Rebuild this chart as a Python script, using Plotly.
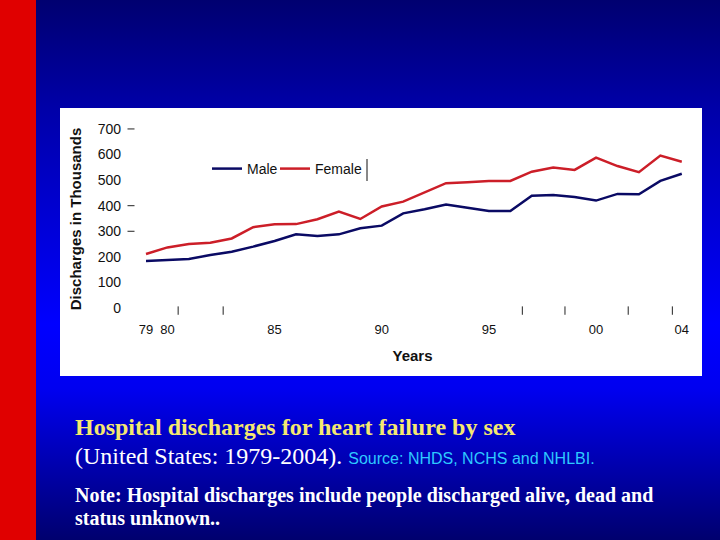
import base64
import plotly.graph_objects as go

# hospital discharges for heart failure (thousands)
years = list(range(1979, 2005))
male = [184, 188, 192, 207, 220, 240, 262, 288, 282, 288, 312, 322, 370,
        386, 405, 392, 379, 379, 439, 442, 434, 420, 446, 445, 497, 525]
female = [211, 237, 250, 255, 272, 316, 327, 328, 347, 377, 348, 397, 416,
          452, 488, 492, 497, 497, 533, 549, 540, 588, 555, 531, 596, 572]

x_tickvals = [1979, 1980, 1985, 1990, 1995, 2000, 2004]
x_ticktext = ['79', '80', '85', '90', '95', '00', '04']
y_tickvals = [0, 100, 200, 300, 400, 500, 600, 700]

# stray little tick marks left over on the original slide
stray_x = [1980.5, 1982.6, 1996.56, 1998.55, 2001.5, 2003.56]
stray_y_dash = [700, 400, 300]

# blue slide background as an svg gradient
svg = '''<svg xmlns="http://www.w3.org/2000/svg" width="720" height="540" preserveAspectRatio="none">
<defs><linearGradient id="g" x1="0" y1="0" x2="0" y2="1">
<stop offset="0" stop-color="#000070"/>
<stop offset="0.2" stop-color="#0000a8"/>
<stop offset="0.6" stop-color="#0000ff"/>
<stop offset="0.72" stop-color="#0000f0"/>
<stop offset="1" stop-color="#00006e"/>
</linearGradient></defs>
<rect width="720" height="540" fill="url(#g)"/></svg>'''
bg_src = 'data:image/svg+xml;base64,' + base64.b64encode(svg.encode()).decode()

W, H = 720, 540
L, R, T, B = 125, 20, 120, 222
PW, PH = W - L - R, H - T - B

# 'paper' in plotly means the plot area, so convert page pixels to it
def px(x): return (x - L) / PW
def py(y): return (H - B - y) / PH

serif = 'Liberation Serif, Times New Roman'

fig = go.Figure()
fig.add_trace(go.Scatter(x=years, y=male, mode='lines', name='Male', legend='legend',
                         line=dict(color='#0a0a64', width=2.5)))
fig.add_trace(go.Scatter(x=years, y=female, mode='lines', name='Female', legend='legend2',
                         line=dict(color='#cc1e28', width=2.5)))
fig.add_trace(go.Scatter(x=stray_x, y=[-10] * len(stray_x), mode='markers', showlegend=False,
                         cliponaxis=False, hoverinfo='skip',
                         marker=dict(symbol='line-ns', size=6, line=dict(color='#222', width=1))))
fig.add_trace(go.Scatter(x=[1978.3] * len(stray_y_dash), y=stray_y_dash, mode='markers',
                         showlegend=False, cliponaxis=False, hoverinfo='skip',
                         marker=dict(symbol='line-ew', size=5, line=dict(color='#222', width=1))))

leg = dict(orientation='h', y=py(169), xanchor='left', yanchor='middle',
           bgcolor='rgba(0,0,0,0)', font=dict(size=14), itemwidth=30)

fig.update_layout(
    width=W, height=H,
    margin=dict(l=L, r=R, t=T, b=B),
    paper_bgcolor='#00008c', plot_bgcolor='white',
    font=dict(family='Liberation Sans, Arial', color='#111', size=14),
    images=[dict(source=bg_src, xref='paper', yref='paper', x=px(0), y=py(0),
                 sizex=W / PW, sizey=H / PH,
                 xanchor='left', yanchor='top', sizing='stretch', layer='below')],
    shapes=[
        dict(type='rect', xref='paper', yref='paper', x0=px(60), x1=px(702), y0=py(376), y1=py(108),
             fillcolor='white', line=dict(width=0), layer='below'),
        dict(type='rect', xref='paper', yref='paper', x0=px(0), x1=px(36), y0=py(540), y1=py(0),
             fillcolor='#e00000', line=dict(width=0), layer='below'),
        dict(type='line', xref='paper', yref='paper', x0=px(367), x1=px(367), y0=py(181), y1=py(159),
             line=dict(color='#111', width=1)),
    ],
    legend=dict(leg, x=px(207)),
    legend2=dict(leg, x=px(275)),
    xaxis=dict(range=[1978.02, 2004.85], tickvals=x_tickvals, ticktext=x_ticktext,
               showgrid=False, zeroline=False, showline=False, ticks='', ticklabelstandoff=2,
               tickfont=dict(size=13),
               title=dict(text='<b>Years</b>', font=dict(size=15), standoff=14)),
    yaxis=dict(range=[-39, 735], tickvals=y_tickvals, showgrid=False, zeroline=False,
               showline=False, ticks='', ticklabelstandoff=3, tickfont=dict(size=14),
               title=dict(text='<b>Discharges in Thousands</b>', font=dict(size=15), standoff=12)),
    annotations=[
        dict(xref='paper', yref='paper', x=px(73), y=py(427), xanchor='left', yanchor='middle',
             showarrow=False, text='<b>Hospital discharges for heart failure by sex</b>',
             font=dict(family=serif, size=24, color='#f5e870')),
        dict(xref='paper', yref='paper', x=px(73), y=py(456), xanchor='left', yanchor='middle',
             showarrow=False,
             text='(United States: 1979-2004). '
                  '<span style="font-family:Liberation Sans, Arial;font-size:16px;color:#2ec8ff">'
                  'Source: NHDS, NCHS and NHLBI.</span>',
             font=dict(family=serif, size=24, color='white')),
        dict(xref='paper', yref='paper', x=px(73), y=py(495), xanchor='left', yanchor='middle',
             showarrow=False,
             text='<b>Note: Hospital discharges include people discharged alive, dead and</b>',
             font=dict(family=serif, size=20, color='white')),
        dict(xref='paper', yref='paper', x=px(73), y=py(518), xanchor='left', yanchor='middle',
             showarrow=False, text='<b>status unknown..</b>',
             font=dict(family=serif, size=20, color='white')),
    ],
)

fig.write_html('out.html', config={'displayModeBar': False},
               post_script="document.body.style.margin='0';")
